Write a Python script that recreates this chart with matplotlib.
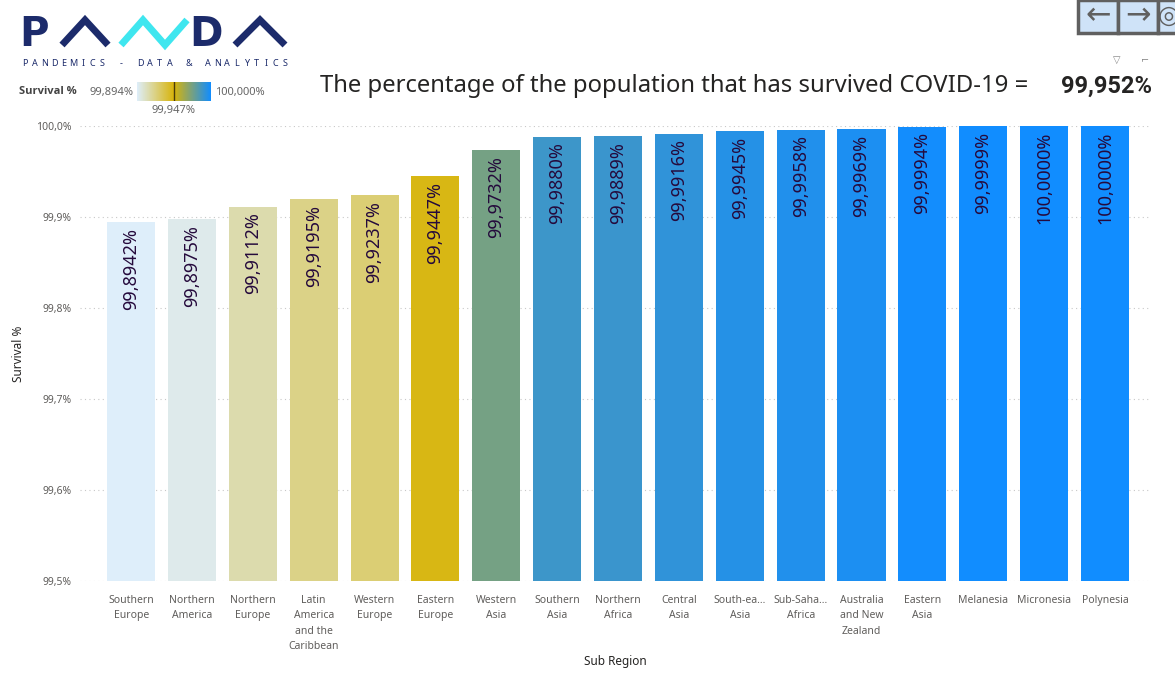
import numpy as np
import matplotlib
matplotlib.use('Agg')
import matplotlib.pyplot as plt
from matplotlib.colors import LinearSegmentedColormap, TwoSlopeNorm
from matplotlib.lines import Line2D
from matplotlib.patches import Rectangle

regions = ["Southern\nEurope", "Northern\nAmerica", "Northern\nEurope",
           "Latin\nAmerica\nand the\nCaribbean", "Western\nEurope", "Eastern\nEurope",
           "Western\nAsia", "Southern\nAsia", "Northern\nAfrica", "Central\nAsia",
           "South-ea...\nAsia", "Sub-Saha...\nAfrica", "Australia\nand New\nZealand",
           "Eastern\nAsia", "Melanesia", "Micronesia", "Polynesia"]
survival = [99.8942, 99.8975, 99.9112, 99.9195, 99.9237, 99.9447, 99.9732,
            99.9880, 99.9889, 99.9916, 99.9945, 99.9958, 99.9969, 99.9994,
            99.9999, 100.0000, 100.0000]
scale_min, scale_mid, scale_max = 99.894, 99.947, 100.000
overall = 99.952
y_ticks = [99.5, 99.6, 99.7, 99.8, 99.9, 100.0]

W, H = 1175, 695


def comma(v, nd):
    return f"{v:.{nd}f}".replace('.', ',')


def fx(px):
    return px / W


def fy(py):
    return 1 - py / H


plt.rcParams['font.family'] = ['Noto Sans', 'DejaVu Sans']

cmap = LinearSegmentedColormap.from_list('pbi', ['#deeefa', '#d8b40a', '#118dff'])
norm = TwoSlopeNorm(vmin=scale_min, vcenter=scale_mid, vmax=scale_max)

fig = plt.figure(figsize=(W / 100, H / 100), dpi=100)
ax = fig.add_axes([fx(80), fy(581), fx(1070), 455 / H])

x = np.arange(len(regions))
colors = [cmap(norm(v)) for v in survival]
ax.bar(x, np.array(survival) - 99.5, bottom=99.5, width=0.79, color=colors, zorder=2)
for xi, v in zip(x, survival):
    ax.annotate(comma(v, 4) + '%', (xi, v), xytext=(0, -4), textcoords='offset points',
                rotation=90, ha='center', va='top', fontsize=13, color='#250a3c', zorder=3)

ax.set_xlim(-0.84, len(regions) - 0.26)
ax.set_ylim(99.5, 100.0)
ax.set_yticks(y_ticks)
ax.set_yticklabels([comma(t, 1) + '%' for t in y_ticks])
ax.set_xticks(x)
ax.set_xticklabels(regions, linespacing=1.55)
ax.tick_params(length=0, labelsize=7.5, colors='#605e5c')
ax.tick_params(axis='x', pad=10)
ax.tick_params(axis='y', pad=6)
ax.grid(axis='y', linestyle=(0, (1, 3)), color='#c8c8c8', linewidth=0.8, zorder=0)
for s in ax.spines.values():
    s.set_visible(False)
ax.set_xlabel('Sub Region', fontsize=8.5, color='#252423', labelpad=2)
ax.set_ylabel('Survival %', fontsize=8.5, color='#252423', labelpad=8)

# logo
navy = '#1c2b6b'
cyan = '#3fe6ef'
fig.text(fx(19), fy(46), 'P', fontsize=29, fontweight='bold', family='DejaVu Sans',
         color=navy, va='baseline')
fig.text(fx(189), fy(46), 'D', fontsize=29, fontweight='bold', family='DejaVu Sans',
         color=navy, va='baseline')
for pts, c in [([(62, 45), (85, 20), (108, 45)], navy),
               ([(235, 45), (260, 20), (285, 45)], navy),
               ([(121, 45), (143, 20), (165, 45), (187, 20)], cyan)]:
    fig.add_artist(Line2D([fx(p[0]) for p in pts], [fy(p[1]) for p in pts],
                          color=c, linewidth=5, solid_joinstyle='miter',
                          solid_capstyle='butt', transform=fig.transFigure))
tagline = 'PANDEMICS - DATA & ANALYTICS'
for i, ch in enumerate(tagline):
    fig.text(fx(25 + i * 260 / (len(tagline) - 1)), fy(64), ch, fontsize=6.5,
             color=navy, ha='center', va='center')

# colour scale legend
fig.text(fx(19), fy(92), 'Survival %', fontsize=8, fontweight='bold', family='Open Sans',
         color='#444444', va='center')
fig.text(fx(134), fy(92), comma(scale_min, 3) + '%', fontsize=8, color='#666666',
         va='center', ha='right')
fig.text(fx(215), fy(92), comma(scale_max, 3) + '%', fontsize=8, color='#666666', va='center')
fig.text(fx(174), fy(111), comma(scale_mid, 3) + '%', fontsize=8, color='#666666',
         va='center', ha='center')
cax = fig.add_axes([fx(137), fy(101), 74 / W, 19 / H])
grad = np.linspace(scale_min, scale_max, 256)[None, :]
cax.imshow(grad, aspect='auto', cmap=cmap, norm=norm, extent=(scale_min, scale_max, 0, 1))
cax.axvline(scale_mid, color='#4a3c0a', linewidth=1)
cax.set_axis_off()

# headline
fig.text(fx(320), fy(86), 'The percentage of the population that has survived COVID-19 =',
         fontsize=17.2, color='#252423', va='center')
fig.text(fx(1152), fy(86), comma(overall, 3) + '%', fontsize=17, fontweight='bold',
         family='Roboto', color='#252423', va='center', ha='right')

# navigation buttons
for bx in [1078, 1118, 1158]:
    fig.add_artist(Rectangle((fx(bx), fy(33)), 40 / W, 33 / H, transform=fig.transFigure,
                             facecolor='#cfe3f8', edgecolor='#606060', linewidth=2.5))
fig.text(fx(1098), fy(16), '\u2190', fontsize=22, color='#606060', ha='center', va='center')
fig.text(fx(1138), fy(16), '\u2192', fontsize=22, color='#606060', ha='center', va='center')
fig.text(fx(1158), fy(16), '\u25ce', fontsize=18, color='#606060', ha='left', va='center')
fig.text(fx(1117), fy(60), '\u25bd', fontsize=7, color='#888888', ha='center', va='center')
fig.text(fx(1145), fy(60), '\u2310', fontsize=7, color='#888888', ha='center', va='center')

fig.savefig('out.png', dpi=100)
